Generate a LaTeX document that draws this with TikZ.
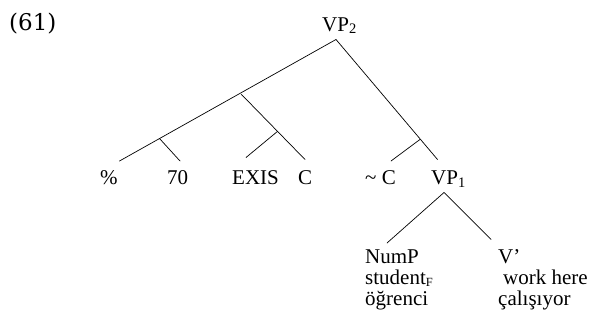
\documentclass[tikz,border=0pt]{standalone}
\usepackage{fontspec}
\setmainfont{Liberation Serif}
\newfontfamily\exfont{DejaVu Serif}
\newcommand\lsub[1]{\raisebox{-2.2pt}{\fontsize{14.5}{15}\selectfont #1}}
\newcommand\fsub[1]{\raisebox{-2pt}{\fontsize{12.5}{13}\selectfont #1}}
\begin{document}
\begin{tikzpicture}[x=1pt,y=-1pt,
  lab/.style={inner sep=0pt, anchor=base west, font=\fontsize{21}{25}\selectfont},
  exlab/.style={inner sep=0pt, anchor=base west, font=\exfont\fontsize{23}{26}\selectfont},
  br/.style={line width=0.7pt, line cap=round}]
\useasboundingbox (0,0) rectangle (593,320);
\fill[white] (0,0) rectangle (593,320);
% labels
\node[exlab] (ex) at (9,31) {(61)};
\node[lab] (vp2) at (322,31.7) {VP\lsub{2}};
\node[lab] (pct) at (100,185) {\%};
\node[lab] (sev) at (167,185) {70};
\node[lab] (exis) at (232,185) {EXIS};
\node[lab] (c) at (298,185) {C};
\node[lab] (nc) at (365,185) {\textasciitilde\ C};
\node[lab] (vp1) at (431,185) {VP\lsub{1}};
\node[lab] (nump) at (365,263) {NumP};
\node[lab] (stud) at (365,284) {student\fsub{F}};
\node[lab] (ogr) at (365,305) {öğrenci};
\node[lab] (vbar) at (498,263) {V’};
\node[lab] (work) at (498,284) {\hspace{5pt}work here};
\node[lab] (cal) at (498,305) {çalışıyor};
% branching points and line ends
\coordinate (top) at (336,39.5);
\coordinate (lend) at (119.5,161);
\coordinate (mid) at (241,94);
\coordinate (bone) at (159.5,138.5);
\coordinate (bonee) at (180,161);
\coordinate (mide) at (305,159.5);
\coordinate (sub) at (277.5,131.4);
\coordinate (sube) at (246,157.5);
\coordinate (rend) at (437.5,159.5);
\coordinate (rb) at (420.2,139.3);
\coordinate (rbe) at (391,161);
\coordinate (vtop) at (444,192.5);
\coordinate (vlft) at (387,243);
\coordinate (vrgt) at (491,239.5);
% connectors
\draw[br] (top) -- (lend);
\draw[br] (bone) -- (bonee);
\draw[br] (mid) -- (mide);
\draw[br] (sub) -- (sube);
\draw[br] (top) -- (rend);
\draw[br] (rb) -- (rbe);
\draw[br] (vtop) -- (vlft);
\draw[br] (vtop) -- (vrgt);
\end{tikzpicture}
\end{document}
